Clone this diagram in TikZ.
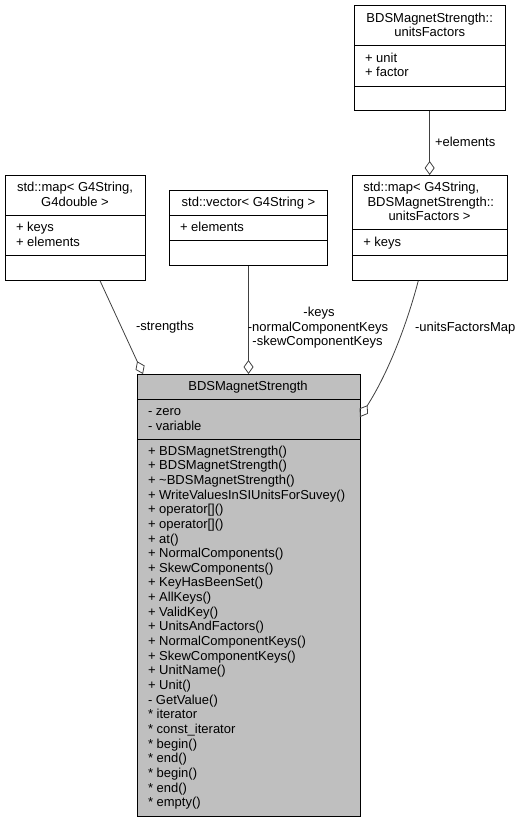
\documentclass[tikz,border=0pt]{standalone}
\usepackage{fontspec}
\setmainfont{Liberation Sans}
\usetikzlibrary{arrows.meta}
\definecolor{edgecol}{HTML}{404040}
\definecolor{mainfill}{HTML}{BFBFBF}
\begin{document}
\begin{tikzpicture}[x=1bp,y=-1bp,
  box/.style={draw=black,line width=0.9bp,inner sep=0pt,outer sep=0pt,anchor=north west},
  sep/.style={draw=black,line width=0.9bp},
  txt/.style={inner sep=0pt,outer sep=0pt,anchor=base west,font=\fontsize{13bp}{14.65bp}\selectfont},
  ctxt/.style={txt,anchor=base},
  conn/.style={draw=edgecol,line width=0.8bp,-{Diamond[open,length=14bp,width=10bp]}},
]
\useasboundingbox (0,0) rectangle (521,823);

% ---------- BDSMagnetStrength::unitsFactors ----------
\node[box,minimum width=150.7bp,minimum height=105bp] (uf) at (354.3,5.7) {};
\draw[sep] (354.3,45.7) -- (505,45.7);
\draw[sep] (354.3,86) -- (505,86);
\node[ctxt] (uft1) at (429.7,22.2) {BDSMagnetStrength::};
\node[ctxt] (uft2) at (429.7,36.85) {unitsFactors};
\node[txt] (ufa1) at (365,62.2) {+ unit};
\node[txt] (ufa2) at (365,76.85) {+ factor};

% ---------- std::map< G4String, G4double > ----------
\node[box,minimum width=140bp,minimum height=105.7bp] (mapd) at (5,175) {};
\draw[sep] (5,215) -- (145,215);
\draw[sep] (5,255.7) -- (145,255.7);
\node[ctxt] (mapdt1) at (75,191.5) {std::map< G4String,};
\node[ctxt] (mapdt2) at (75,206.15) {G4double >};
\node[txt] (mapda1) at (16,231.5) {+ keys};
\node[txt] (mapda2) at (16,246.15) {+ elements};

% ---------- std::vector< G4String > ----------
\node[box,minimum width=158.4bp,minimum height=75.7bp] (vec) at (169.3,190) {};
\draw[sep] (169.3,215) -- (327.7,215);
\draw[sep] (169.3,240) -- (327.7,240);
\node[ctxt] (vect1) at (248.5,206.5) {std::vector< G4String >};
\node[txt] (veca1) at (180,231.5) {+ elements};

% ---------- std::map< G4String, BDSMagnetStrength::unitsFactors > ----------
\node[box,minimum width=154.6bp,minimum height=105.7bp] (mapu) at (352.7,175) {};
\draw[sep] (352.7,229.3) -- (507.3,229.3);
\draw[sep] (352.7,255.7) -- (507.3,255.7);
\node[txt] (maput1) at (363.3,191.5) {std::map< G4String,};
\node[ctxt] (maput2) at (430.8,206.15) {BDSMagnetStrength::};
\node[ctxt] (maput3) at (429.5,220.8) {unitsFactors >};
\node[txt] (mapua1) at (363.3,246) {+ keys};

% ---------- BDSMagnetStrength ----------
\node[box,fill=mainfill,minimum width=222.5bp,minimum height=442bp] (main) at (137.5,374) {};
\draw[sep] (137.5,399.3) -- (360,399.3);
\draw[sep] (137.5,439.3) -- (360,439.3);
\node[ctxt] (maint) at (248,390) {BDSMagnetStrength};
\node[txt] (maina1) at (148,415.7) {- zero};
\node[txt] (maina2) at (148,430.35) {- variable};
\foreach \t [count=\i] in {
  {+ BDSMagnetStrength()},
  {+ BDSMagnetStrength()},
  {+ \textasciitilde BDSMagnetStrength()},
  {+ WriteValuesInSIUnitsForSuvey()},
  {+ operator[]()},
  {+ operator[]()},
  {+ at()},
  {+ NormalComponents()},
  {+ SkewComponents()},
  {+ KeyHasBeenSet()},
  {+ AllKeys()},
  {+ ValidKey()},
  {+ UnitsAndFactors()},
  {+ NormalComponentKeys()},
  {+ SkewComponentKeys()},
  {+ UnitName()},
  {+ Unit()},
  {- GetValue()},
  {* iterator},
  {* const\_iterator},
  {* begin()},
  {* end()},
  {* begin()},
  {* end()},
  {* empty()}}
  \node[txt] (mm\i) at (148,{455.1+14.65*(\i-1)}) {\t};

% ---------- connectors ----------
\draw[conn] (uf.south) -- (uf.south |- mapu.north);
\node[txt] (lelements) at (435,146.4) {+elements};

\draw[conn] ([xshift=25bp]mapd.south) -- ([xshift=-105.75bp]main.north);
\node[txt] (lstrengths) at (136,330.7) {-strengths};

\draw[conn] (vec.south) -- (vec.south |- main.north);
\node[ctxt] (lkeys1) at (319,316.4) {-keys};
\node[ctxt] (lkeys2) at (318,331.05) {-normalComponentKeys};
\node[ctxt] (lkeys3) at (317.5,345.7) {-skewComponentKeys};

\draw[conn] ([xshift=-11.7bp]mapu.south) .. controls (408,320) and (390,370) .. ([yshift=-43bp]main.north east);
\node[txt] (lufm) at (415,331) {-unitsFactorsMap};
\end{tikzpicture}
\end{document}
